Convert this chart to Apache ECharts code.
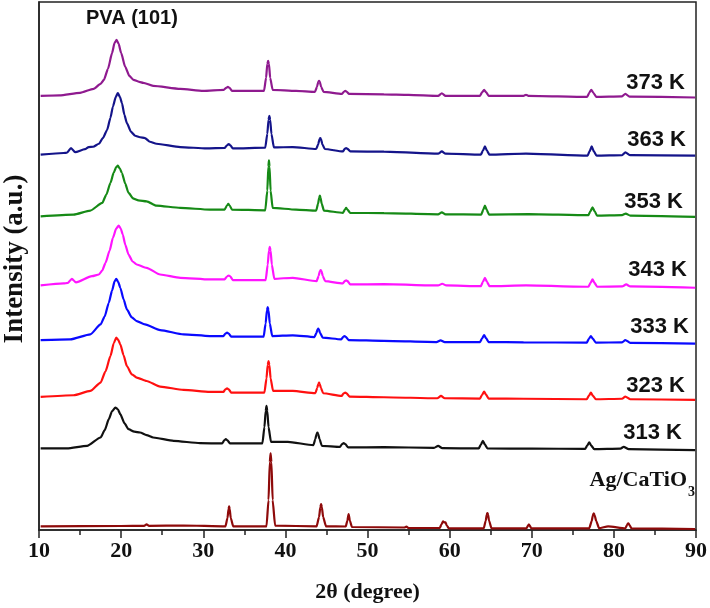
<!DOCTYPE html>
<html>
<head>
<meta charset="utf-8">
<script src="https://cdn.jsdelivr.net/npm/echarts@6/dist/echarts.min.js"></script>
<style>html,body{margin:0;padding:0;background:#fff}#c{width:710px;height:608px}</style>
</head>
<body>
<div id="c"></div>
<script>
// 2θ (degree) vs stacked intensity (a.u.)
const seriesNames = ['373 K','363 K','353 K','343 K','333 K','323 K','313 K','Ag/CaTiO3'];
const xTicks = [10,20,30,40,50,60,70,80,90];

const s373 = [[10.2,435],[12.5,435.5],[15,438],[16.65,442],[17.5,447],[17.9,451],[18.4,462],[18.9,478],[19.2,488],[19.45,491],[19.7,487],[20.0,478],[20.5,464],[21.0,455],[21.5,451],[22.2,449],[22.7,448],[23.9,445],[27.2,442],[30,440],[32.5,441],[32.8,443],[33,444],[33.2,443],[33.5,440],[37.4,440],[37.65,453],[37.8,467],[37.9,470],[38.0,467],[38.15,453],[38.45,441],[41.3,440],[43.6,439],[43.85,444],[44.0,449],[44.1,450],[44.2,449],[44.35,444],[44.65,439],[46.9,437],[47.15,439.3],[47.3,440],[47.45,439.3],[47.75,437],[52,436.5],[55,436],[58.6,435],[59.05,437.5],[59.5,435],[63.7,435],[63.95,438.5],[64.2,441],[64.45,438.5],[64.75,435],[69,435],[69.3,436],[69.6,435],[76.75,434],[77.0,438],[77.25,441],[77.5,438],[77.85,434],[81.0,434.5],[81.4,437],[81.9,434.2],[89.9,433.3]];
const s363 = [[10.2,376],[13,377.7],[13.4,378],[13.9,382.7],[14.4,378.5],[15.6,381.5],[16.05,383.7],[16.6,384],[17.3,387],[17.8,393],[18.3,401],[18.7,413],[19.0,424.3],[19.35,434],[19.6,437.7],[19.85,434],[20.1,427.7],[20.4,416],[20.7,407.7],[21.2,399],[21.7,395],[22.3,393.5],[22.9,392.7],[23.5,389],[24.3,387],[27.2,383.7],[30.4,382.3],[32.6,382.7],[32.9,385.5],[33.1,386.7],[33.3,385.5],[33.6,382.3],[37.55,383],[37.8,397],[37.95,411],[38.05,415],[38.15,411],[38.3,397],[38.6,383.3],[40.9,383.7],[43.75,381.7],[44.0,386.5],[44.15,391.5],[44.25,392.7],[44.35,391.5],[44.5,386.5],[44.8,381.7],[47.0,379.3],[47.25,382],[47.4,382.7],[47.55,382],[47.9,379.3],[52,379],[58.6,377],[59.05,379.3],[59.5,377],[63.8,376],[64.05,380],[64.3,384.3],[64.55,380],[64.85,376],[69.3,377],[76.8,375],[77.05,379.5],[77.3,384.3],[77.55,379.5],[77.9,375],[81.0,375.5],[81.4,378.3],[82,375.5],[89.9,375]];
const s353 = [[10.2,314.3],[14.2,316],[16.25,320],[17.7,327.7],[18.2,336],[18.7,347.7],[19.1,358],[19.4,363.5],[19.6,365],[19.85,362],[20.1,357.7],[20.5,347],[20.9,337.7],[21.5,332],[22.1,330.3],[23.1,329.3],[24.3,325],[27.2,322.7],[30.8,321],[32.6,321],[32.88,325],[33.05,326.7],[33.22,325],[33.5,321],[37.55,320.3],[37.8,340],[37.93,364],[38.0,370.3],[38.07,364],[38.2,340],[38.45,322.7],[41.3,321],[43.75,320],[43.98,327],[44.12,333],[44.2,335],[44.28,333],[44.42,327],[44.7,320],[47.0,317.7],[47.25,321],[47.4,322.7],[47.55,321],[47.9,317.7],[52,317.5],[58.6,316.3],[59.05,318.3],[59.5,316.3],[63.85,316],[64.1,321],[64.3,325],[64.5,321],[64.8,316],[69.6,316.5],[76.9,315.5],[77.15,319.5],[77.4,323.3],[77.65,319.5],[77.95,315],[81.0,315.5],[81.45,317],[82,315],[89.9,313.7]];
const s343 = [[10.2,245],[13,247],[13.5,247.5],[14,251.7],[14.5,248],[16.45,254.3],[17.3,256],[17.7,260],[18.1,267.7],[18.6,280],[19.0,292.7],[19.4,302],[19.7,305],[19.95,302],[20.2,296],[20.5,286],[20.9,276],[21.4,269],[21.9,266],[23.1,262.7],[24.75,256],[27.2,252.7],[30.8,251],[32.6,251],[32.9,254],[33.1,255],[33.3,254],[33.6,250.3],[37.6,250.3],[37.85,266],[38.0,280],[38.1,283.7],[38.2,280],[38.35,266],[38.65,251.7],[40.9,252.7],[43.8,249.3],[44.05,254.5],[44.2,259.3],[44.3,260.3],[44.4,259.3],[44.55,254.5],[44.85,249.3],[47.0,247],[47.25,249.5],[47.4,250],[47.55,249.5],[47.9,246],[52,246.3],[58.6,245],[59.1,246.7],[59.6,245],[63.8,244.3],[64.05,248.5],[64.3,252.7],[64.55,248.5],[64.85,244.3],[69.3,245],[76.9,243.7],[77.15,247.5],[77.4,251],[77.65,247.5],[77.95,243.7],[81.0,244],[81.5,246],[82,244],[89.9,242.7]];
const s333 = [[10.2,190.3],[13.8,191],[16.25,196],[17.5,206],[18.0,214],[18.5,227.7],[18.9,240],[19.2,249],[19.4,251.7],[19.65,248.5],[19.9,242.7],[20.3,231],[20.7,221],[21.3,213],[21.9,209.3],[22.9,206],[24.75,200.3],[27.6,196],[30.8,194.3],[32.45,194.3],[32.7,196.7],[32.9,197.7],[33.1,196.7],[33.4,193.7],[37.35,193.7],[37.6,207],[37.75,220],[37.85,223.3],[37.95,220],[38.1,207],[38.4,194.3],[40.9,195],[43.55,193.3],[43.78,197.5],[43.92,201],[44.0,201.7],[44.08,201],[44.22,197.5],[44.55,192.7],[46.8,191],[47.05,193.5],[47.2,194.3],[47.35,193.5],[47.7,190.3],[52,189.5],[58.4,188.3],[58.9,190],[59.4,188.3],[63.7,188.3],[63.95,192],[64.2,195.3],[64.45,192],[64.75,188.3],[69,188],[76.7,187.7],[76.95,191.5],[77.2,194.3],[77.45,191.5],[77.8,187.7],[81.0,188],[81.4,190.3],[82,187.5],[89.9,186.7]];
const s323 = [[10.2,133.3],[14.2,135],[16.25,139.3],[17.5,147.7],[18.1,159],[18.7,174.3],[19.1,187],[19.4,192.7],[19.65,190.5],[19.9,186],[20.3,175],[20.7,164.3],[21.3,156],[21.9,152.7],[23.1,149.3],[24.75,143.7],[27.6,140.3],[30.8,138.3],[32.45,138.3],[32.7,141],[32.9,142],[33.1,141],[33.4,137.7],[37.45,137.7],[37.7,152],[37.85,165.5],[37.95,169.3],[38.05,165.5],[38.2,152],[38.5,139.3],[40.9,139.3],[43.65,137],[43.88,142.5],[44.02,146.5],[44.1,147.7],[44.18,146.5],[44.32,142.5],[44.6,137],[46.85,134.3],[47.1,137],[47.3,137.7],[47.45,137],[47.8,133.7],[52,133],[58.5,132],[58.95,134.3],[59.4,132],[63.7,131.7],[63.95,135.5],[64.2,138.7],[64.45,135.5],[64.75,131.7],[69,131.5],[76.7,131],[76.95,134.5],[77.2,137.7],[77.45,134.5],[77.8,131],[81,131.5],[81.4,133.7],[82,131],[89.9,130.3]];
const s313 = [[10.2,81.7],[13.4,81.7],[15.85,84.3],[17.5,92.7],[18.0,100],[18.5,111],[18.9,119],[19.3,122.7],[19.6,121],[19.9,116],[20.4,107],[20.9,101],[21.6,98.5],[22.3,97.7],[23.1,95],[23.9,92.7],[26.4,89.3],[29.6,87],[32.3,86.7],[32.55,89.8],[32.75,91],[32.95,89.8],[33.25,86.7],[37.2,86.7],[37.45,103],[37.6,119],[37.7,124.3],[37.8,119],[37.95,103],[38.25,88.3],[40.3,88.3],[43.4,85],[43.65,91],[43.8,96.3],[43.9,97.7],[44.0,96.3],[44.15,91],[44.45,84.3],[46.65,83.3],[46.9,86],[47.1,87],[47.3,86],[47.65,82.7],[52,83],[58.1,82.3],[58.6,84.3],[59.1,82],[63.55,81.7],[63.8,85.5],[64.05,89.3],[64.3,85.5],[64.6,81.7],[70,81.5],[76.5,81.3],[76.75,84.5],[77.0,87.7],[77.25,84.5],[77.6,81],[80.8,81.5],[81.2,83.3],[81.8,81],[89.9,80]];
const sAg = [[10.2,3.7],[20,4],[22.8,4.2],[23.1,5.7],[23.4,4.2],[27.6,4.5],[32.7,3.7],[32.95,12],[33.08,21],[33.15,23.7],[33.22,21],[33.35,12],[33.65,3.7],[37.7,3.7],[37.95,30],[38.1,68],[38.2,76.7],[38.3,68],[38.45,30],[38.75,4.3],[43.8,3.7],[44.1,13],[44.26,23],[44.35,26],[44.44,23],[44.6,13],[44.95,3.7],[47.35,3.5],[47.55,9.5],[47.7,16],[47.85,9.5],[48.1,3],[54.5,2.5],[54.75,3.3],[55,2],[58.8,2],[59.0,5.5],[59.2,8.7],[59.35,7.5],[59.5,7.7],[59.65,4.5],[59.9,1.7],[64.15,1.7],[64.4,9.5],[64.52,15.5],[64.6,17],[64.68,15.5],[64.8,9.5],[65.1,1.7],[69.35,1.7],[69.65,5.7],[69.95,1.7],[77.0,1.7],[77.3,9],[77.45,15],[77.55,16.7],[77.65,15],[77.85,9],[78.2,1.7],[79.3,3.7],[81.4,1.7],[81.6,5],[81.75,6.7],[81.9,5],[82.15,1.7],[89.9,1]];

const seriesData = [s373,s363,s353,s343,s333,s323,s313,sAg];
const colors = ['#8f1a8f','#14148a','#168a16','#ff14ff','#0a0aff','#ff1010','#111111','#8e0a0a'];

const chart = echarts.init(document.getElementById('c'), null, {renderer:'canvas'});
const serif = '"Liberation Serif","Times New Roman",serif';
const sans = '"Liberation Sans",Arial,sans-serif';

const labelPos = [[685,83],[686,140],[683,202],[687,270],[689,327],[685,386],[682,433]];
const graphics = [];
seriesNames.slice(0,7).forEach((n,i)=>{
  graphics.push({type:'text', x:labelPos[i][0], y:labelPos[i][1], style:{text:n, font:'bold 22px '+sans, fill:'#111', align:'right', verticalAlign:'middle'}});
});
graphics.push({type:'text', x:687, y:480, style:{text:'Ag/CaTiO', font:'bold 22px '+serif, fill:'#111', align:'right', verticalAlign:'middle'}});
graphics.push({type:'text', x:688, y:492, style:{text:'3', font:'bold 14px '+serif, fill:'#111', align:'left', verticalAlign:'middle'}});
graphics.push({type:'text', x:86, y:18, style:{text:'PVA (101)', font:'bold 20px '+sans, fill:'#111', align:'left', verticalAlign:'middle'}});
graphics.push({type:'text', x:15, y:259, rotation:Math.PI/2, style:{text:'Intensity (a.u.)', font:'bold 27px '+serif, fill:'#111', align:'center', verticalAlign:'middle'}});

chart.setOption({
  animation:false,
  backgroundColor:'#fff',
  grid:{left:39, right:12.5, top:2, bottom:77, show:true, borderColor:'#222', borderWidth:1.5, backgroundColor:'transparent'},
  xAxis:{
    type:'value', min:10, max:90, interval:10,
    name:'2θ (degree)', nameLocation:'middle', nameGap:51,
    nameTextStyle:{fontFamily:serif, fontWeight:'bold', fontSize:22, color:'#111'},
    axisLine:{show:true, lineStyle:{color:'#222', width:1.5}},
    axisTick:{show:true, inside:false, length:8, lineStyle:{color:'#222', width:1.5}},
    minorTick:{show:true, splitNumber:2, length:5, lineStyle:{color:'#222', width:1.5}},
    axisLabel:{fontFamily:serif, fontWeight:'bold', fontSize:22, color:'#111', margin:10,
      formatter:v=>xTicks.includes(v)?String(v):''},
    splitLine:{show:false}
  },
  yAxis:{
    type:'value', min:0, max:529,
    axisLine:{show:true, lineStyle:{color:'#222', width:1.5}},
    axisTick:{show:false}, axisLabel:{show:false}, splitLine:{show:false}
  },
  graphic:graphics,
  series:seriesData.map((d,i)=>({
    name:seriesNames[i], type:'line', data:d, showSymbol:false, symbol:'none',
    smooth:0.2, smoothMonotone:'x', lineStyle:{color:colors[i], width:2.2}, z:2
  }))
});
</script>
</body>
</html>
